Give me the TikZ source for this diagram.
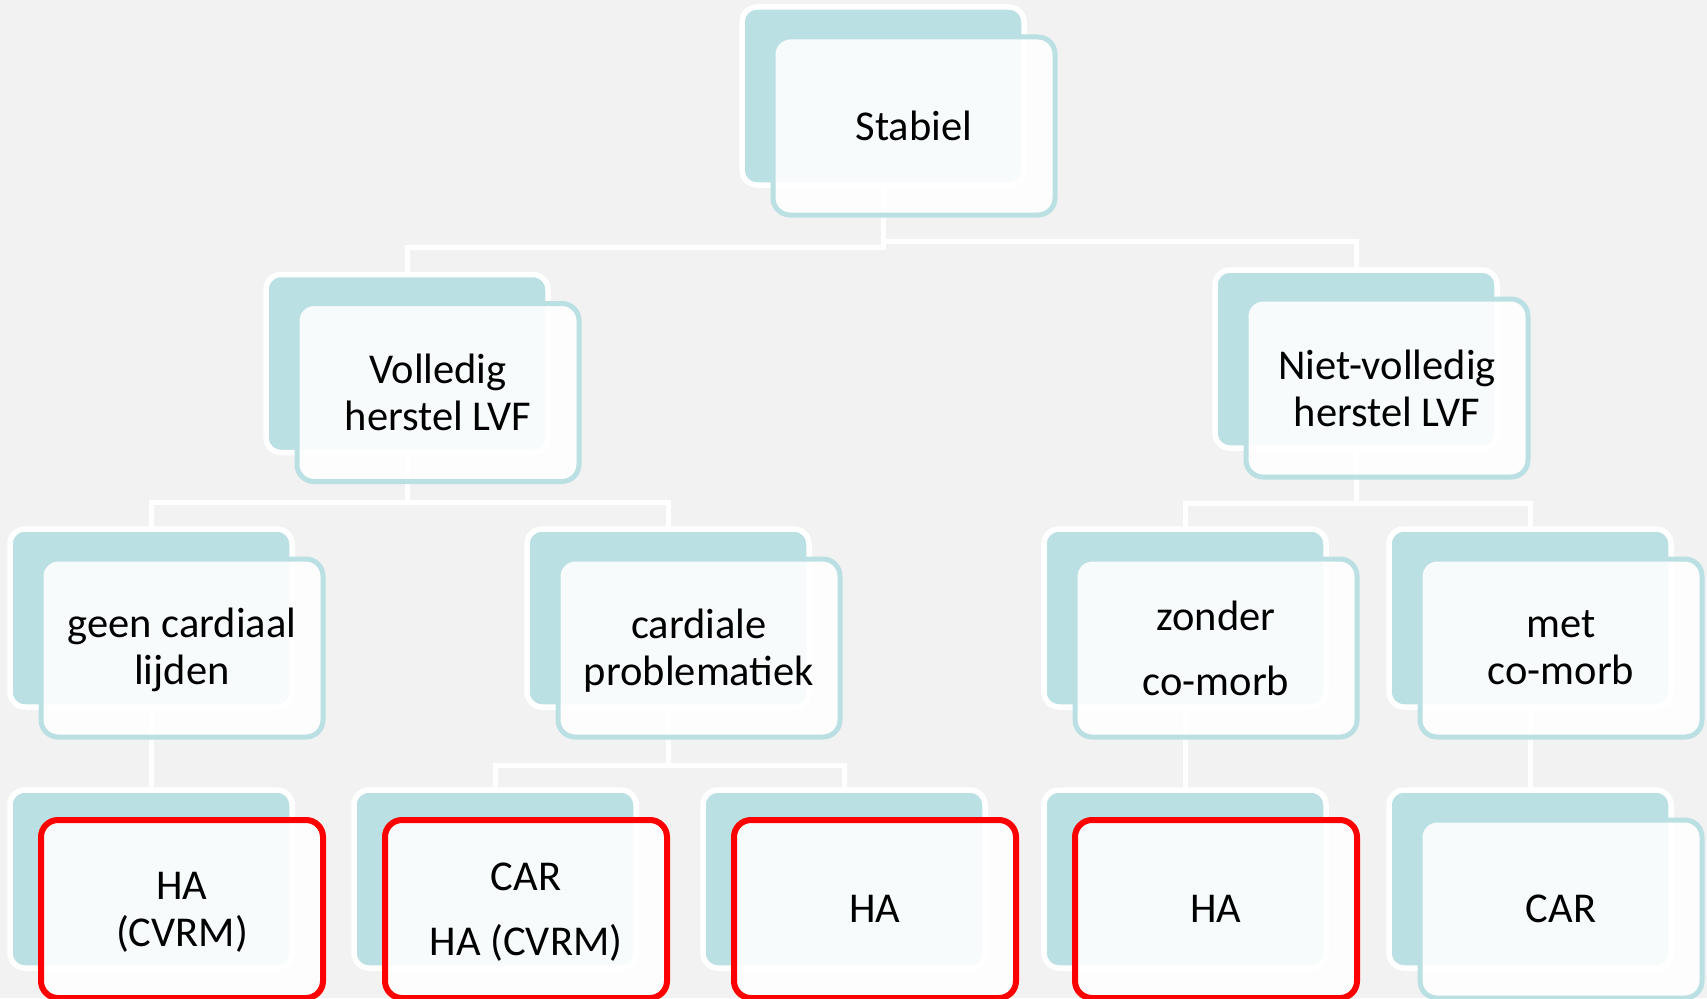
\documentclass[tikz,border=0pt]{standalone}
\usepackage{fontspec}
\setmainfont{Carlito}
\definecolor{pagebg}{HTML}{F2F2F2}
\definecolor{boxteal}{HTML}{BBE0E3}
\definecolor{alertred}{HTML}{FF0000}
\pgfdeclarelayer{canvas}
\pgfdeclarelayer{links}
\pgfsetlayers{canvas,links,main}
\tikzset{
  backbox/.style={rectangle, rounded corners=15pt, fill=boxteal, draw=white,
    line width=5.5pt, minimum width=282pt, minimum height=178pt, inner sep=0pt},
  frontbox/.style={rectangle, rounded corners=17pt, fill=white, fill opacity=0.9,
    text opacity=1, draw=boxteal, line width=5pt, minimum width=282pt,
    minimum height=178pt, inner sep=0pt, align=center,
    font=\fontsize{42.5}{47}\selectfont},
  redbox/.style={frontbox, draw=alertred, line width=6pt},
  link/.style={draw=white, line width=5pt},
}
\begin{document}
\begin{tikzpicture}[x=1pt,y=-1pt]
\begin{pgfonlayer}{canvas}
  \fill[pagebg] (0,0) rectangle (1707,998);
\end{pgfonlayer}
\useasboundingbox (0,0) rectangle (1707,998);

% back cards
\node[backbox] (b0)  at (883,96)    {};
\node[backbox] (b1)  at (407,363.5) {};
\node[backbox] (b2)  at (1356,359)  {};
\node[backbox] (b21) at (151,618)   {};
\node[backbox] (b22) at (668,618)   {};
\node[backbox] (b23) at (1185,618)  {};
\node[backbox] (b24) at (1530,618)  {};
\node[backbox] (b31) at (151,879)   {};
\node[backbox] (b32) at (495,879)   {};
\node[backbox] (b33) at (844,879)   {};
\node[backbox] (b34) at (1185,879)  {};
\node[backbox] (b35) at (1530,879)  {};

% front cards with labels
\node[frontbox] (f0)  at ([shift={(31,30)}]b0.center)  {Stabiel};
\node[frontbox] (f1)  at ([shift={(31,29)}]b1.center)  {Volledig\\herstel LVF};
\node[frontbox] (f2)  at ([shift={(31,29)}]b2.center)  {Niet-volledig\\herstel LVF};
\node[frontbox] (f21) at ([shift={(31,30)}]b21.center) {\rule{0pt}{34pt}geen cardiaal\\lijden};
\node[frontbox] (f22) at ([shift={(31,30)}]b22.center) {\rule{0pt}{34pt}cardiale\\problematiek};
\node[frontbox] (f23) at ([shift={(31,30)}]b23.center) {zonder\\[18pt]co-morb};
\node[frontbox] (f24) at ([shift={(31,30)}]b24.center) {met\\co-morb};
\node[redbox]   (f31) at ([shift={(31,30)}]b31.center) {\rule{0pt}{34pt}HA\\(CVRM)};
\node[redbox]   (f32) at ([shift={(31,30)}]b32.center) {\rule{0pt}{34pt}CAR\\[18pt]HA (CVRM)};
\node[redbox]   (f33) at ([shift={(31,30)}]b33.center) {HA};
\node[redbox]   (f34) at ([shift={(31,30)}]b34.center) {HA};
\node[frontbox] (f35) at ([shift={(31,30)}]b35.center) {CAR};

% tree connectors, behind the cards
\begin{pgfonlayer}{links}
  \draw[link] (b0.center)  -- ++(0,151) -| (b1.center);
  \draw[link] (b0.center)  -- ++(0,145) -| (b2.center);
  \draw[link] (b1.center)  -- ++(0,139) -| (b21.center);
  \draw[link] (b1.center)  -- ++(0,139) -| (b22.center);
  \draw[link] (b2.center)  -- ++(0,144) -| (b23.center);
  \draw[link] (b2.center)  -- ++(0,144) -| (b24.center);
  \draw[link] (b21.center) -- (b31.center);
  \draw[link] (b22.center) -- ++(0,147) -| (b32.center);
  \draw[link] (b22.center) -- ++(0,147) -| (b33.center);
  \draw[link] (b23.center) -- (b34.center);
  \draw[link] (b24.center) -- (b35.center);
\end{pgfonlayer}
\end{tikzpicture}
\end{document}
